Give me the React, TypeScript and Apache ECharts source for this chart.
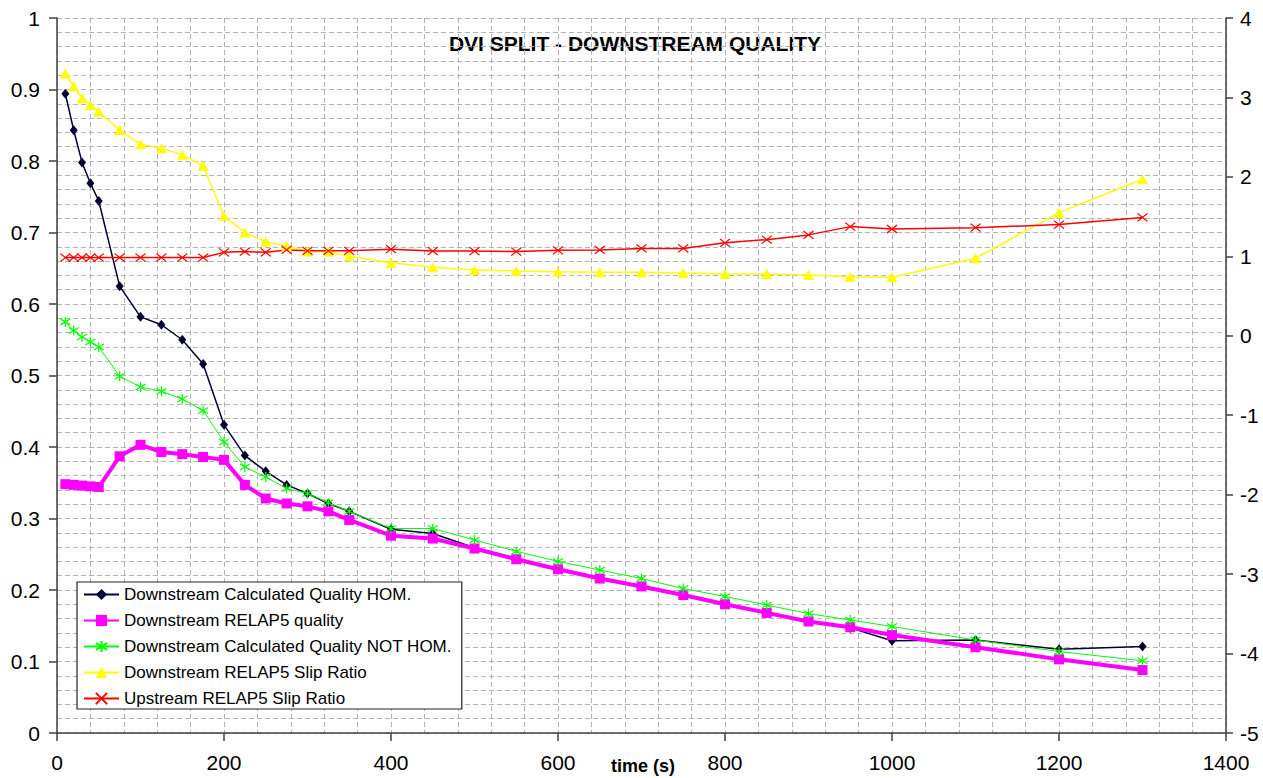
import React, { useEffect, useRef } from "react";
import * as echarts from "echarts";

const timeS = [10, 20, 30, 40, 50, 75, 100, 125, 150, 175, 200, 225, 250, 275, 300, 325, 350, 400, 450, 500, 550, 600, 650, 700, 750, 800, 850, 900, 950, 1000, 1100, 1200, 1300];

const homQuality = [0.894, 0.843, 0.798, 0.769, 0.744, 0.625, 0.582, 0.571, 0.55, 0.516, 0.431, 0.388, 0.366, 0.347, 0.335, 0.321, 0.31, 0.285, 0.279, 0.259, 0.244, 0.23, 0.216, 0.206, 0.193, 0.18, 0.168, 0.157, 0.147, 0.129, 0.13, 0.117, 0.121];

const relapQuality = [0.348, 0.347, 0.346, 0.345, 0.344, 0.387, 0.403, 0.393, 0.39, 0.386, 0.382, 0.347, 0.328, 0.321, 0.317, 0.31, 0.298, 0.276, 0.272, 0.258, 0.243, 0.229, 0.216, 0.205, 0.193, 0.18, 0.168, 0.156, 0.148, 0.137, 0.12, 0.103, 0.088];

const notHomQuality = [0.575, 0.563, 0.554, 0.547, 0.54, 0.499, 0.484, 0.478, 0.467, 0.451, 0.407, 0.372, 0.358, 0.342, 0.335, 0.322, 0.31, 0.286, 0.286, 0.27, 0.254, 0.24, 0.228, 0.216, 0.202, 0.191, 0.179, 0.167, 0.158, 0.149, 0.13, 0.114, 0.101];

const downSlip = [3.3, 3.14, 2.99, 2.905, 2.82, 2.59, 2.41, 2.36, 2.28, 2.14, 1.51, 1.3, 1.185, 1.13, 1.06, 1.06, 1.0, 0.92, 0.862, 0.828, 0.816, 0.807, 0.8, 0.8, 0.79, 0.778, 0.778, 0.765, 0.744, 0.736, 0.975, 1.55, 1.97];

const upSlip = [0.985, 0.985, 0.985, 0.985, 0.985, 0.985, 0.985, 0.985, 0.985, 0.985, 1.05, 1.06, 1.05, 1.08, 1.07, 1.07, 1.07, 1.09, 1.067, 1.067, 1.06, 1.076, 1.08, 1.1, 1.1, 1.17, 1.21, 1.27, 1.374, 1.344, 1.36, 1.4, 1.49];

const seriesNames = [
  "Downstream Calculated Quality HOM.",
  "Downstream RELAP5 quality",
  "Downstream Calculated Quality NOT HOM.",
  "Downstream RELAP5 Slip Ratio",
  "Upstream RELAP5 Slip Ratio",
];

const titleText = "DVI SPLIT - DOWNSTREAM QUALITY";
const xAxisName = "time (s)";

const STAR = "path://M5,0L5,10M0,2L10,8M10,2L0,8";
const CROSS = "path://M0,0L10,10M10,0L0,10";

export default function App() {
  const ref = useRef<HTMLDivElement>(null);

  useEffect(() => {
    const chart = echarts.init(ref.current!, null, { renderer: "svg" });
    const pairs = (ys: number[]) => timeS.map((t, i) => [t, ys[i]]);
    const axisCol = "#404040";
    const gridLine = { show: true, lineStyle: { color: "#b4b4b4", type: [5, 3], width: 1 } };
    const font = "Liberation Sans, Arial, sans-serif";
    const plain = (v: number) => String(Math.round(v * 100) / 100);

    chart.setOption({
      animation: false,
      backgroundColor: "#ffffff",
      textStyle: { fontFamily: font },
      grid: { left: 57, right: 37, top: 18, bottom: 45, containLabel: false },
      xAxis: {
        type: "value",
        min: 0,
        max: 1400,
        interval: 200,
        axisLine: { show: true, onZero: false, lineStyle: { color: axisCol, width: 1.5 } },
        axisTick: { show: true, length: 8, lineStyle: { color: axisCol, width: 1.5 } },
        axisLabel: { fontSize: 21, color: "#000", margin: 19, fontFamily: font, formatter: plain },
        splitLine: gridLine,
        minorTick: { show: false, splitNumber: 5 },
        minorSplitLine: gridLine,
      },
      yAxis: [
        {
          type: "value",
          position: "left",
          min: 0,
          max: 1,
          interval: 0.1,
          axisLine: { show: true, onZero: false, lineStyle: { color: axisCol, width: 1.5 } },
          axisTick: { show: true, length: 8, lineStyle: { color: axisCol, width: 1.5 } },
          axisLabel: { fontSize: 21, color: "#000", margin: 17, fontFamily: font, formatter: plain },
          splitLine: gridLine,
          minorTick: { show: false, splitNumber: 5 },
          minorSplitLine: gridLine,
        },
        {
          type: "value",
          position: "right",
          min: -5,
          max: 4,
          interval: 1,
          axisLine: { show: true, onZero: false, lineStyle: { color: axisCol, width: 1.5 } },
          axisTick: { show: true, length: 7, lineStyle: { color: axisCol, width: 1.5 } },
          axisLabel: { fontSize: 21, color: "#000", margin: 14, fontFamily: font, formatter: plain },
          splitLine: { show: false },
        },
      ],
      legend: {
        orient: "vertical",
        left: 77,
        top: 582,
        padding: [4, 10, 2, 6],
        itemWidth: 35,
        itemHeight: 14,
        itemGap: 9,
        backgroundColor: "#ffffff",
        borderColor: "#222",
        borderWidth: 1.2,
        borderRadius: 0,
        textStyle: { fontSize: 17, color: "#000", lineHeight: 14, fontFamily: font },
        data: seriesNames,
      },
      graphic: [
        {
          type: "text",
          x: 635,
          y: 43,
          style: {
            text: titleText,
            fontSize: 21,
            fontWeight: "bold",
            fontFamily: font,
            fill: "#000",
            textAlign: "center",
            textVerticalAlign: "middle",
          },
        },
        {
          type: "text",
          x: 643,
          y: 766,
          style: {
            text: xAxisName,
            fontSize: 18,
            fontWeight: "bold",
            fontFamily: font,
            fill: "#000",
            textAlign: "center",
            textVerticalAlign: "middle",
          },
        },
      ],
      series: [
        {
          name: seriesNames[0],
          type: "line",
          yAxisIndex: 0,
          data: pairs(homQuality),
          symbol: "diamond",
          symbolSize: [8, 10],
          lineStyle: { color: "#000033", width: 1.5 },
          itemStyle: { color: "#000033" },
        },
        {
          name: seriesNames[1],
          type: "line",
          yAxisIndex: 0,
          data: pairs(relapQuality),
          symbol: "rect",
          symbolSize: 10,
          lineStyle: { color: "#ff00ff", width: 4 },
          itemStyle: { color: "#ff00ff" },
        },
        {
          name: seriesNames[2],
          type: "line",
          yAxisIndex: 0,
          data: pairs(notHomQuality),
          symbol: STAR,
          symbolSize: 10,
          lineStyle: { color: "#00ff00", width: 1 },
          itemStyle: { color: "#00ff00", borderColor: "#00ff00", borderWidth: 1.2 },
        },
        {
          name: seriesNames[3],
          type: "line",
          yAxisIndex: 1,
          data: pairs(downSlip),
          symbol: "triangle",
          symbolSize: [11, 10],
          lineStyle: { color: "#ffff00", width: 1.5 },
          itemStyle: { color: "#ffff00" },
        },
        {
          name: seriesNames[4],
          type: "line",
          yAxisIndex: 1,
          data: pairs(upSlip),
          symbol: CROSS,
          symbolSize: [10, 8],
          lineStyle: { color: "#ff0000", width: 1.5 },
          itemStyle: { color: "#ff0000", borderColor: "#ff0000", borderWidth: 1.2 },
        },
      ],
    });

    return () => chart.dispose();
  }, []);

  return (
    <div
      ref={ref}
      style={{ position: "absolute", left: 0, top: 0, width: 1263, height: 778 }}
    />
  );
}
